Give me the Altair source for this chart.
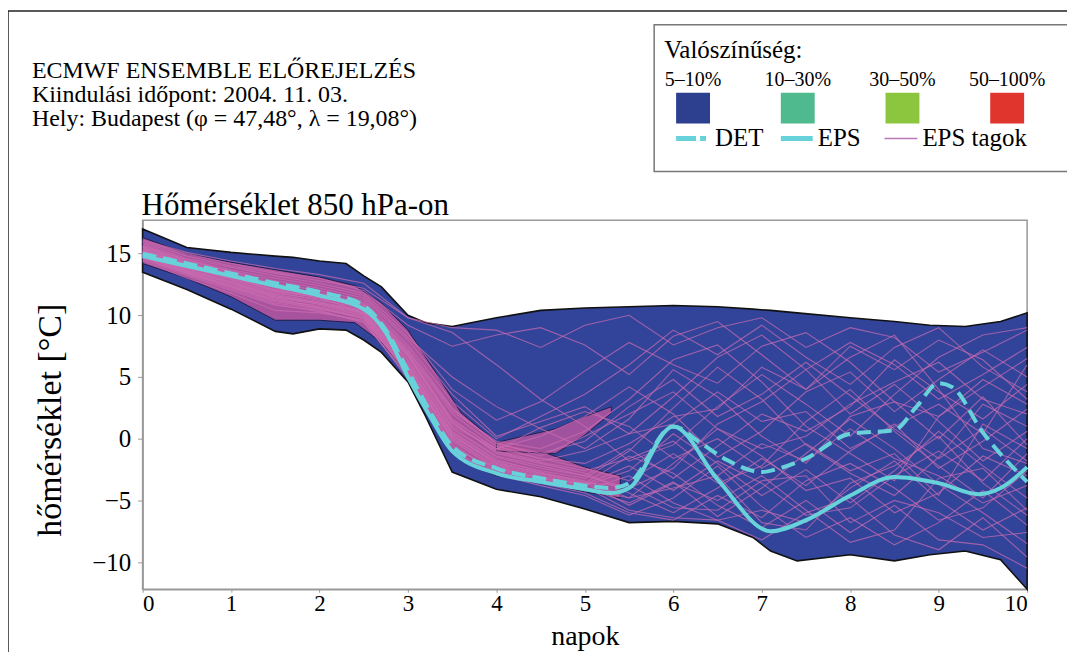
import altair as alt
import pandas as pd

FONT = "Liberation Serif"

# ---------------- data ----------------
DAYS = [0, 0.5, 1, 1.5, 2, 2.5, 3, 3.5, 4, 4.5, 5, 5.5, 6, 6.5, 7, 7.5, 8, 8.5, 9, 9.5, 10]

M01 = [15.8, 14.6, 13.9, 13.2, 12.6, 11.8, 8.5, 4.0, 1.5, 3.0, 5.5, 7.8, 6.0, 4.5, 7.5, 8.6, 6.2, 3.0, 1.8, 4.2, 6.5]
M02 = [15.2, 14.1, 13.1, 12.0, 11.4, 10.2, 6.0, 0.5, -1.8, -2.6, -3.2, -1.0, 2.5, 5.8, 3.2, -0.5, -2.8, -4.6, -1.5, 2.8, 1.0]
M03 = [14.6, 13.4, 12.2, 11.0, 10.5, 9.8, 5.2, -0.6, -2.6, -3.4, -4.0, -5.2, -3.5, -6.3, -4.0, -1.2, 1.6, -0.8, -3.7, -6.0, -8.5]
M04 = [16.0, 15.0, 14.2, 13.5, 13.0, 12.0, 9.2, 7.5, 8.4, 9.0, 7.6, 5.2, 8.3, 9.5, 6.8, 4.0, 7.5, 5.6, 8.0, 6.4, 3.2]
M05 = [15.0, 13.8, 12.6, 11.5, 11.0, 10.4, 6.4, 1.0, -0.8, 0.2, 1.8, 4.2, 2.0, -1.5, 0.6, 3.8, 5.4, 2.2, 4.8, 7.2, 5.0]
M06 = [14.4, 13.0, 11.8, 10.4, 10.2, 9.6, 4.8, -1.0, -2.9, -3.8, -4.6, -6.2, -4.8, -2.2, -5.5, -8.0, -6.4, -8.6, -6.8, -4.2, -7.0]
M07 = [15.5, 14.3, 13.4, 12.4, 11.8, 11.0, 7.4, 2.5, -0.4, -1.2, -0.2, 2.6, 4.8, 1.8, 3.6, 6.2, 3.5, 0.8, -1.6, 0.8, -1.8]
M08 = [14.8, 13.6, 12.4, 11.2, 10.8, 10.0, 5.6, 0.0, -2.2, -3.0, -3.8, -2.6, 0.4, -2.0, -4.6, -2.5, -5.2, -2.6, 0.6, -2.2, -4.8]
M09 = [15.9, 14.8, 14.0, 13.4, 12.8, 12.2, 9.8, 8.6, 6.0, 3.2, 1.0, -1.8, -0.5, 2.6, 5.2, 2.8, 0.2, 3.6, 6.6, 8.4, 9.0]
M10 = [15.3, 14.0, 13.0, 11.9, 11.2, 10.6, 6.8, 1.4, -1.2, -2.0, -2.8, -4.4, -6.0, -4.0, -1.6, -3.8, -1.0, 1.2, -2.4, -0.2, 2.4]
M11 = [14.5, 13.2, 12.0, 10.8, 10.4, 9.4, 5.0, -0.8, -2.4, -3.2, -3.6, -1.4, -2.8, -5.4, -7.2, -5.0, -7.6, -5.4, -8.2, -8.6, -10.5]
M12 = [15.6, 14.4, 13.6, 12.8, 12.2, 11.4, 8.0, 3.6, 0.2, 1.4, 2.6, 0.4, 3.4, 6.6, 8.4, 5.6, 2.0, 4.4, 1.4, -1.8, 0.6]
M13 = [15.1, 13.9, 12.8, 11.6, 11.0, 10.3, 6.2, 0.8, -1.5, -2.4, -3.0, -0.8, -3.2, -0.6, 2.0, 0.6, 2.6, 6.4, 3.8, 1.6, 4.4]
M14 = [14.9, 13.7, 12.5, 11.4, 10.6, 9.9, 5.4, 0.2, -2.0, -2.8, -3.4, -4.8, -2.0, 0.8, -1.4, -4.2, -3.2, -6.0, -4.4, -1.4, -3.0]
M15 = [16.1, 15.1, 14.4, 13.8, 13.3, 12.6, 9.8, 9.0, 8.8, 7.4, 9.2, 10.0, 7.6, 9.0, 9.8, 7.4, 9.0, 8.2, 5.4, 7.0, 8.8]
M16 = [15.4, 14.2, 13.2, 12.2, 11.6, 10.8, 7.0, 2.0, -0.6, -1.6, -2.4, -3.4, -1.2, -3.6, -2.2, 1.4, 4.0, 0.6, -2.2, -4.8, -1.2]
M17 = [14.7, 13.5, 12.3, 11.1, 10.6, 9.7, 5.3, -0.2, -2.5, -3.3, -4.2, -3.0, -5.2, -6.6, -5.8, -6.8, -4.0, -1.8, -5.0, -7.4, -5.6]
M18 = [15.7, 14.5, 13.7, 13.0, 12.4, 11.6, 8.2, 5.0, 2.6, 0.8, -0.8, 1.6, 5.6, 3.4, 0.2, -2.0, 1.8, 3.0, 0.0, 3.4, -0.5]
M19 = [15.0, 13.8, 12.7, 11.6, 11.0, 10.2, 6.0, 0.6, -1.7, -2.7, -3.5, -5.4, -3.6, -5.0, -3.0, -5.8, -8.4, -7.4, -3.2, -2.4, -5.8]
M20 = [15.2, 14.0, 12.9, 11.8, 11.3, 10.5, 6.6, 1.2, -1.0, -1.8, -1.0, 0.4, 1.2, 3.8, 1.4, 2.2, -0.8, 1.0, 2.8, 0.4, 6.0]
M21 = [14.6, 13.3, 12.1, 10.9, 10.3, 9.5, 5.1, -0.4, -2.8, -3.6, -4.4, -6.0, -6.6, -4.6, -6.4, -3.4, -2.0, -4.0, -6.6, -5.6, -2.6]
M22 = [15.5, 14.3, 13.3, 12.3, 11.7, 10.9, 7.2, 2.2, -0.2, -0.8, 0.6, 3.2, 6.4, 7.6, 4.6, 1.0, -1.2, -3.4, 1.8, 4.8, 2.8]
M23 = [14.9, 13.6, 12.6, 11.4, 10.9, 10.1, 5.8, 0.4, -2.1, -2.9, -3.7, -2.2, -4.2, -1.8, -3.6, -6.2, -5.6, -3.0, -1.0, -3.4, 0.0]
M24 = [15.3, 14.1, 13.1, 12.1, 11.5, 10.7, 6.9, 1.6, -0.9, 0.9, 2.2, 1.0, -1.6, 0.0, -2.4, -0.4, -2.6, -1.2, -4.6, 1.2, -0.8]
M25 = [15.1, 13.9, 12.9, 11.7, 11.1, 10.4, 6.3, 0.9, -1.4, -2.2, -3.0, -4.0, -2.4, 1.2, 3.0, 5.6, 7.8, 6.0, 3.2, 5.2, 7.4]
M26 = [14.8, 13.5, 12.4, 11.3, 10.7, 10.0, 5.7, 0.1, -2.3, -3.1, -3.9, -5.8, -6.4, -6.6, -8.2, -6.0, -4.8, -7.8, -9.0, -6.4, -9.6]
M27 = [15.6, 14.5, 13.5, 12.6, 12.0, 11.2, 7.6, 3.0, 0.0, 1.8, 3.6, 6.0, 8.8, 6.8, 9.2, 6.6, 4.4, 7.4, 9.0, 5.8, 3.8]
M28 = [15.2, 14.0, 13.0, 12.0, 11.4, 10.6, 6.7, 1.3, -1.1, -1.9, -2.6, -1.6, -0.2, -3.0, -0.4, -1.8, 0.8, -1.6, -3.0, -5.2, -3.8]
M29 = [14.7, 13.4, 12.3, 11.2, 10.6, 9.8, 5.5, -0.1, -2.4, -3.2, -4.0, -4.8, -4.0, -3.0, -6.8, -7.4, -3.6, -2.2, 0.2, -3.6, -6.2]
M30 = [15.4, 14.2, 13.3, 12.3, 11.6, 10.9, 7.1, 2.4, -0.3, -1.4, 0.2, 2.0, 3.8, 0.8, -0.8, 0.2, 2.8, 4.6, 6.2, 3.2, 2.0]
M31 = [15.0, 13.7, 12.7, 11.5, 10.9, 10.2, 5.9, 0.3, -1.9, -2.8, -3.6, -3.8, -5.6, -5.8, -3.4, -3.0, -6.8, -5.0, -6.0, -8.0, -7.6]
M32 = [15.3, 14.1, 13.1, 12.0, 11.5, 10.7, 6.8, 1.5, -0.8, -1.6, -2.0, -0.4, 1.8, 2.4, 5.8, 4.0, 6.6, 8.4, 4.0, -0.8, -2.0]
MEMBERS = [M01, M02, M03, M04, M05, M06, M07, M08, M09, M10, M11, M12, M13, M14, M15, M16,
           M17, M18, M19, M20, M21, M22, M23, M24, M25, M26, M27, M28, M29, M30, M31, M32]

# outer 5-10% envelope
ENV_DAYS = [0, 0.5, 1, 1.5, 1.7, 2, 2.3, 2.5, 2.7, 3, 3.2, 3.5, 4, 4.5, 5, 5.5, 6, 6.5, 6.9, 7.1, 7.4, 8, 8.5, 8.9, 9.3, 9.7, 10]
ENV_UPPER = [17.0, 15.5, 15.1, 14.8, 14.7, 14.4, 14.2, 13.2, 12.3, 10.0, 9.4, 9.1, 9.8, 10.4, 10.6, 10.7, 10.8, 10.7, 10.5, 10.4, 10.2, 9.8, 9.5, 9.2, 9.1, 9.5, 10.2]
ENV_LOWER = [13.5, 12.1, 10.5, 8.7, 8.5, 8.9, 8.8, 8.0, 7.0, 4.6, 1.8, -2.7, -4.1, -4.7, -5.7, -6.8, -6.7, -6.9, -8.0, -9.1, -9.9, -9.4, -9.9, -9.4, -9.1, -9.8, -12.2]

# dense core of the plume
CORE_DAYS = [0, 0.5, 1, 1.5, 2, 2.4, 2.7, 3, 3.3, 3.6, 4, 4.5, 5, 5.4]
CORE_UPPER = [16.3, 15.0, 14.3, 13.7, 13.1, 12.4, 11.0, 8.8, 5.5, 2.1, -0.3, -1.0, -2.3, -3.0]
CORE_LOWER = [14.2, 13.0, 11.5, 9.6, 9.6, 9.4, 7.8, 5.2, 1.2, -1.8, -3.0, -3.6, -4.3, -4.8]

BRANCH_DAYS = [4.0, 4.67, 5.0, 5.3]
BRANCH_UPPER = [-0.3, 0.8, 1.8, 2.6]
BRANCH_LOWER = [-1.0, -1.2, 0.3, 2.1]

DET_DAYS = [0, 0.5, 1, 1.5, 2, 2.5, 2.75, 3, 3.25, 3.5, 4, 4.5, 5, 5.3, 5.5, 6.0, 6.3, 6.6, 7.0, 7.2, 7.5, 8.0, 8.5, 8.75, 9.0, 9.15, 9.5, 10]
DET_TEMP = [15.0, 14.2, 13.4, 12.6, 11.9, 10.8, 8.8, 5.5, 2.2, -0.6, -2.4, -3.2, -3.8, -4.0, -3.6, 1.0, -0.3, -1.7, -2.7, -2.4, -1.6, 0.4, 0.7, 2.6, 4.5, 4.2, 0.5, -3.5]

EPS_DAYS = [0, 0.5, 1, 1.5, 2, 2.5, 2.75, 3, 3.25, 3.5, 4, 4.5, 5, 5.3, 5.5, 6.0, 6.5, 7.1, 7.5, 8.0, 8.5, 9.0, 9.45, 9.7, 10]
EPS_TEMP = [14.8, 14.0, 13.2, 12.4, 11.6, 10.5, 8.6, 5.0, 1.8, -1.0, -2.8, -3.5, -4.1, -4.4, -4.0, 1.0, -3.3, -7.5, -6.6, -4.6, -3.1, -3.6, -4.5, -4.0, -2.3]

X_TICKS = list(range(0, 11))
Y_TICKS = [-10, -5, 0, 5, 10, 15]

HEADER = ["ECMWF ENSEMBLE ELŐREJELZÉS",
          "Kiindulási időpont: 2004. 11. 03.",
          "Hely: Budapest (φ = 47,48°, λ = 19,08°)"]
PROB_LABELS = ["5–10%", "10–30%", "30–50%", "50–100%"]
PROB_COLORS = ["#2d3f8f", "#4fba8e", "#8cc63f", "#e0352c"]

# colours
ENV_BLUE = "#32449a"
CORE_PINK = "#b5559f"
MEMBER_PINK = "#cc6cb0"
CYAN = "#68d2da"

# ---------------- frames ----------------
env_df = pd.DataFrame({"day": ENV_DAYS, "lo": ENV_LOWER, "hi": ENV_UPPER})
core_df = pd.DataFrame({"day": CORE_DAYS, "lo": CORE_LOWER, "hi": CORE_UPPER})
branch_df = pd.DataFrame({"day": BRANCH_DAYS, "lo": BRANCH_LOWER, "hi": BRANCH_UPPER})
rows = []
for i, vals in enumerate(MEMBERS):
    for d, v in zip(DAYS, vals):
        rows.append({"day": d, "temp": v, "member": f"m{i + 1:02d}"})
mem_df = pd.DataFrame(rows)
det_df = pd.DataFrame({"day": DET_DAYS, "temp": DET_TEMP})
eps_df = pd.DataFrame({"day": EPS_DAYS, "temp": EPS_TEMP})

W, H = 887, 370
xscale = alt.Scale(domain=[0, 10], nice=False, zero=False)
yscale = alt.Scale(domain=[-12.2, 17.7], nice=False, zero=False)

xaxis = alt.Axis(values=X_TICKS, title="napok", grid=False,
                 labelFont=FONT, labelFontSize=23, labelColor="black", labelPadding=0,
                 tickSize=3, tickColor="#999999", domainColor="#999999", domainWidth=1.5,
                 titleFont=FONT, titleFontSize=28, titleFontWeight="normal", titleColor="black",
                 titleY=55, titleBaseline="alphabetic")
yaxis = alt.Axis(values=Y_TICKS, title="hőmérséklet [°C]", grid=False,
                 labelFont=FONT, labelFontSize=25, labelColor="black", labelPadding=7,
                 tickSize=5, tickColor="#999999", domainColor="#999999", domainWidth=1.5,
                 titleFont=FONT, titleFontSize=34, titleFontWeight="normal", titleColor="black",
                 titleX=-92, titleY=200, titleAngle=270, titleAlign="center", titleBaseline="middle")

X = alt.X("day:Q", scale=xscale, axis=xaxis)


def Yf(field):
    return alt.Y(f"{field}:Q", scale=yscale, axis=yaxis)


envelope = alt.Chart(env_df).mark_area(color=ENV_BLUE, stroke="#111111", strokeWidth=1.6).encode(
    x=X, y=Yf("lo"), y2="hi:Q")
core = alt.Chart(core_df).mark_area(color=CORE_PINK, opacity=0.9, stroke="#1b1b44",
                                    strokeWidth=1.0).encode(x=X, y=Yf("lo"), y2="hi:Q")
branch = alt.Chart(branch_df).mark_area(color=CORE_PINK, opacity=0.85, stroke="#1b1b44",
                                        strokeWidth=1.0).encode(x=X, y=Yf("lo"), y2="hi:Q")
members = alt.Chart(mem_df).mark_line(color=MEMBER_PINK, strokeWidth=1.1, opacity=0.7).encode(
    x=X, y=Yf("temp"), detail="member:N")
det = alt.Chart(det_df).mark_line(color=CYAN, strokeWidth=4, strokeDash=[14, 7],
                                  interpolate="monotone").encode(x=X, y=Yf("temp"))
eps = alt.Chart(eps_df).mark_line(color=CYAN, strokeWidth=4, interpolate="monotone").encode(
    x=X, y=Yf("temp"))

one = pd.DataFrame({"k": [0]})


def txt(s, x, y, size, align="left"):
    return alt.Chart(one).mark_text(text=s, font=FONT, fontSize=size, color="black",
                                    align=align, baseline="alphabetic").encode(
        x=alt.value(x), y=alt.value(y))


layers = [envelope, core, branch, members, det, eps]

# plot title
layers.append(txt("Hőmérséklet 850 hPa-on", -1, -5, 31))

# outer frame (left and top edges)
layers.append(alt.Chart(one).mark_rule(color="#222222", strokeWidth=1.5).encode(
    x=alt.value(-135), y=alt.value(-210), y2=alt.value(440)))
layers.append(alt.Chart(one).mark_rule(color="#222222", strokeWidth=1.5).encode(
    x=alt.value(-135), x2=alt.value(960), y=alt.value(-210)))

# header text
for i, s in enumerate(HEADER):
    layers.append(txt(s, -111, -143 + 24 * i, 24))

# legend box
layers.append(alt.Chart(one).mark_rect(fill="white", stroke="#777777", strokeWidth=1.5).encode(
    x=alt.value(513), x2=alt.value(960), y=alt.value(-196), y2=alt.value(-49)))
layers.append(txt("Valószínűség:", 523, -163, 25))
for i, (lab, col) in enumerate(zip(PROB_LABELS, PROB_COLORS)):
    x0 = 535 + 105 * i
    layers.append(txt(lab, x0 + 17, -135, 20, align="center"))
    layers.append(alt.Chart(one).mark_rect(fill=col).encode(
        x=alt.value(x0), x2=alt.value(x0 + 34), y=alt.value(-128), y2=alt.value(-97)))

# legend line symbols
layers.append(alt.Chart(one).mark_rule(color=CYAN, strokeWidth=5, strokeDash=[20, 4, 6, 4]).encode(
    x=alt.value(535), x2=alt.value(569), y=alt.value(-82)))
layers.append(txt("DET", 574, -75, 25))
layers.append(alt.Chart(one).mark_rule(color=CYAN, strokeWidth=5).encode(
    x=alt.value(640), x2=alt.value(672), y=alt.value(-82)))
layers.append(txt("EPS", 677, -75, 25))
layers.append(alt.Chart(one).mark_rule(color="#b77ab8", strokeWidth=1.5).encode(
    x=alt.value(744), x2=alt.value(777), y=alt.value(-82)))
layers.append(txt("EPS tagok", 782, -75, 25))

chart = alt.layer(*layers).properties(
    width=W, height=H,
    padding={"left": 135, "top": 212, "right": 40, "bottom": 62},
    autosize=alt.AutoSizeParams(type="none"),
    background="white",
).configure_view(stroke="#999999", strokeWidth=1.5)

chart.save("out.html", embed_options={"renderer": "svg", "actions": False})
